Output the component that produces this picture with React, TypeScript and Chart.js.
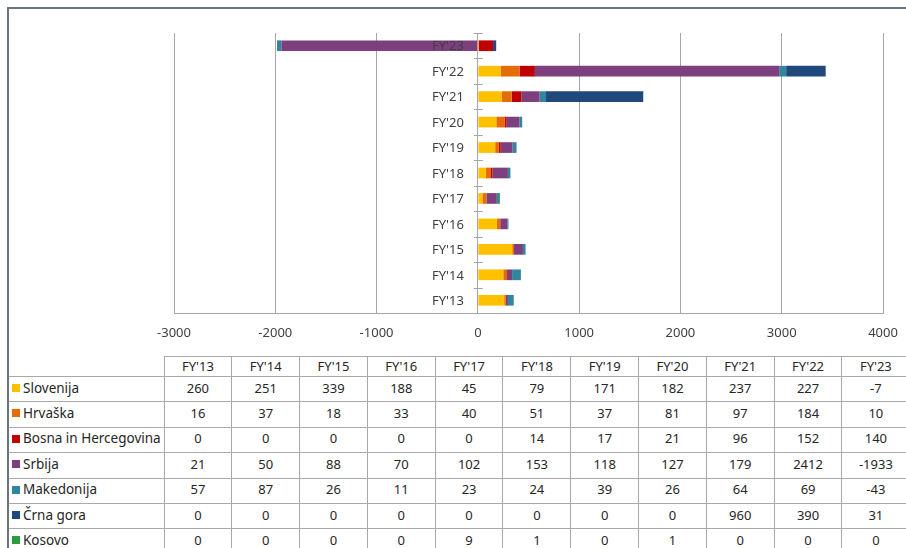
import React, { useEffect, useRef } from "react";
import { Chart, registerables } from "chart.js";

Chart.register(...registerables);

const categories = ["FY'13", "FY'14", "FY'15", "FY'16", "FY'17", "FY'18", "FY'19", "FY'20", "FY'21", "FY'22", "FY'23"];
const seriesNames = ["Slovenija", "Hrvaška", "Bosna in Hercegovina", "Srbija", "Makedonija", "Črna gora", "Kosovo"];
const seriesColors = ["#FFC000", "#E46C0A", "#C00000", "#7D3F7D", "#31859C", "#1F497D", "#2E9B3E"];

const slovenija = [260, 251, 339, 188, 45, 79, 171, 182, 237, 227, -7];
const hrvaska = [16, 37, 18, 33, 40, 51, 37, 81, 97, 184, 10];
const bosna = [0, 0, 0, 0, 0, 14, 17, 21, 96, 152, 140];
const srbija = [21, 50, 88, 70, 102, 153, 118, 127, 179, 2412, -1933];
const makedonija = [57, 87, 26, 11, 23, 24, 39, 26, 64, 69, -43];
const crnaGora = [0, 0, 0, 0, 0, 0, 0, 0, 960, 390, 31];
const kosovo = [0, 0, 0, 0, 9, 1, 0, 1, 0, 0, 0];

const seriesValues = [slovenija, hrvaska, bosna, srbija, makedonija, crnaGora, kosovo];

const xMin = -3000;
const xMax = 4000;
const xStep = 1000;

const FONT = "'Noto Sans', 'DejaVu Sans', sans-serif";
const GRID = "#a6a6a6";
const TEXT = "#404040";

// Draws the cross tick marks on the zero axis and the category labels beside it (on top of bars)
const zeroAxisDecor = {
  id: "zeroAxisDecor",
  afterDatasetsDraw(chart: any) {
    const y = chart.scales.y;
    const x = chart.scales.x;
    const x0 = x.getPixelForValue(0);
    const ctx = chart.ctx;
    ctx.save();
    ctx.strokeStyle = GRID;
    ctx.lineWidth = 1;
    for (let i = 0; i <= categories.length; i++) {
      const py = Math.round(y.getPixelForValue(i - 0.5)) + 0.5;
      ctx.beginPath();
      ctx.moveTo(x0 - 4, py);
      ctx.lineTo(x0 + 5, py);
      ctx.stroke();
    }
    ctx.fillStyle = TEXT;
    ctx.font = `13px ${FONT}`;
    ctx.textAlign = "right";
    ctx.textBaseline = "middle";
    const labels = chart.data.labels as string[];
    labels.forEach((lab, i) => {
      ctx.fillText(lab, x0 - 14, y.getPixelForValue(i) + 1);
    });
    ctx.restore();
  },
};

function ChartCanvas() {
  const ref = useRef<HTMLCanvasElement | null>(null);
  useEffect(() => {
    if (!ref.current) return;
    const chart = new Chart(ref.current, {
      type: "bar",
      data: {
        labels: categories,
        datasets: seriesNames.map((name, i) => ({
          label: name,
          data: seriesValues[i],
          backgroundColor: seriesColors[i],
          borderWidth: 0,
          barPercentage: 0.42,
          categoryPercentage: 1,
        })),
      },
      options: {
        indexAxis: "y",
        animation: false,
        responsive: false,
        devicePixelRatio: 1,
        layout: { padding: { left: 174, right: 23, top: 33, bottom: 7 } },
        plugins: {
          legend: { display: false },
          tooltip: { enabled: false },
        },
        scales: {
          x: {
            type: "linear",
            stacked: true,
            min: xMin,
            max: xMax,
            ticks: {
              stepSize: xStep,
              color: TEXT,
              font: { family: FONT, size: 13 },
              padding: 12,
              maxRotation: 0,
              callback: (v: any) => String(v),
            },
            grid: { color: GRID, lineWidth: 1, drawTicks: false },
            border: { display: true, color: GRID, width: 1 },
            afterFit: (scale: any) => {
              scale.height = 30;
              scale.paddingLeft = 0;
              scale.paddingRight = 0;
            },
          },
          y: {
            type: "category",
            stacked: true,
            reverse: true,
            position: { x: 0 },
            ticks: { display: false },
            grid: { display: false, drawTicks: false },
            border: { display: true, color: GRID, width: 1 },
          },
        },
      } as any,
      plugins: [zeroAxisDecor],
    });
    return () => chart.destroy();
  }, []);
  return <canvas ref={ref} width={906} height={350} style={{ position: "absolute", left: 0, top: 0 }} />;
}

const cellBorder = "1px solid #a9a9a9";

export default function App() {
  const labelW = 155;
  const colW = 67.8;
  const bodyCell = { padding: "0 0 3px 0", textAlign: "center" as const, verticalAlign: "middle" as const };
  return (
    <div style={{ position: "fixed", left: 0, top: 0, width: 906, height: 548, overflow: "hidden", background: "#fff" }}>
      <div
        style={{
          position: "absolute",
          left: 7,
          top: 7,
          width: 940,
          height: 600,
          borderTop: "2px solid #66767c",
          borderLeft: "2px solid #66767c",
        }}
      />
      <ChartCanvas />
      <table
        style={{
          position: "absolute",
          left: 9,
          top: 356,
          borderCollapse: "collapse",
          tableLayout: "fixed",
          width: labelW + colW * categories.length,
          fontFamily: FONT,
          fontSize: 13,
          color: "#262626",
        }}
      >
        <colgroup>
          <col style={{ width: labelW }} />
          {categories.map((c) => (
            <col key={c} style={{ width: colW }} />
          ))}
        </colgroup>
        <thead>
          <tr style={{ height: 20 }}>
            <th style={{ border: "none", padding: 0 }} />
            {categories.map((c) => (
              <th key={c} style={{ border: cellBorder, fontWeight: "normal", padding: "0 0 1px 0", textAlign: "center" }}>
                {c}
              </th>
            ))}
          </tr>
        </thead>
        <tbody>
          {seriesNames.map((name, i) => (
            <tr key={name} style={{ height: 25.4 }}>
              <td
                style={{
                  borderTop: cellBorder,
                  borderBottom: cellBorder,
                  borderRight: cellBorder,
                  borderLeft: "none",
                  padding: "0 0 3px 3px",
                  whiteSpace: "nowrap",
                  textAlign: "left",
                  verticalAlign: "middle",
                  fontSize: 13.5,
                }}
              >
                <span
                  style={{
                    display: "inline-block",
                    width: 8,
                    height: 8,
                    background: seriesColors[i],
                    marginRight: 3,
                    verticalAlign: "middle",
                    position: "relative",
                    top: -1,
                  }}
                />
                {name}
              </td>
              {seriesValues[i].map((v, j) => (
                <td key={j} style={{ ...bodyCell, border: cellBorder }}>
                  {v}
                </td>
              ))}
            </tr>
          ))}
        </tbody>
      </table>
    </div>
  );
}
